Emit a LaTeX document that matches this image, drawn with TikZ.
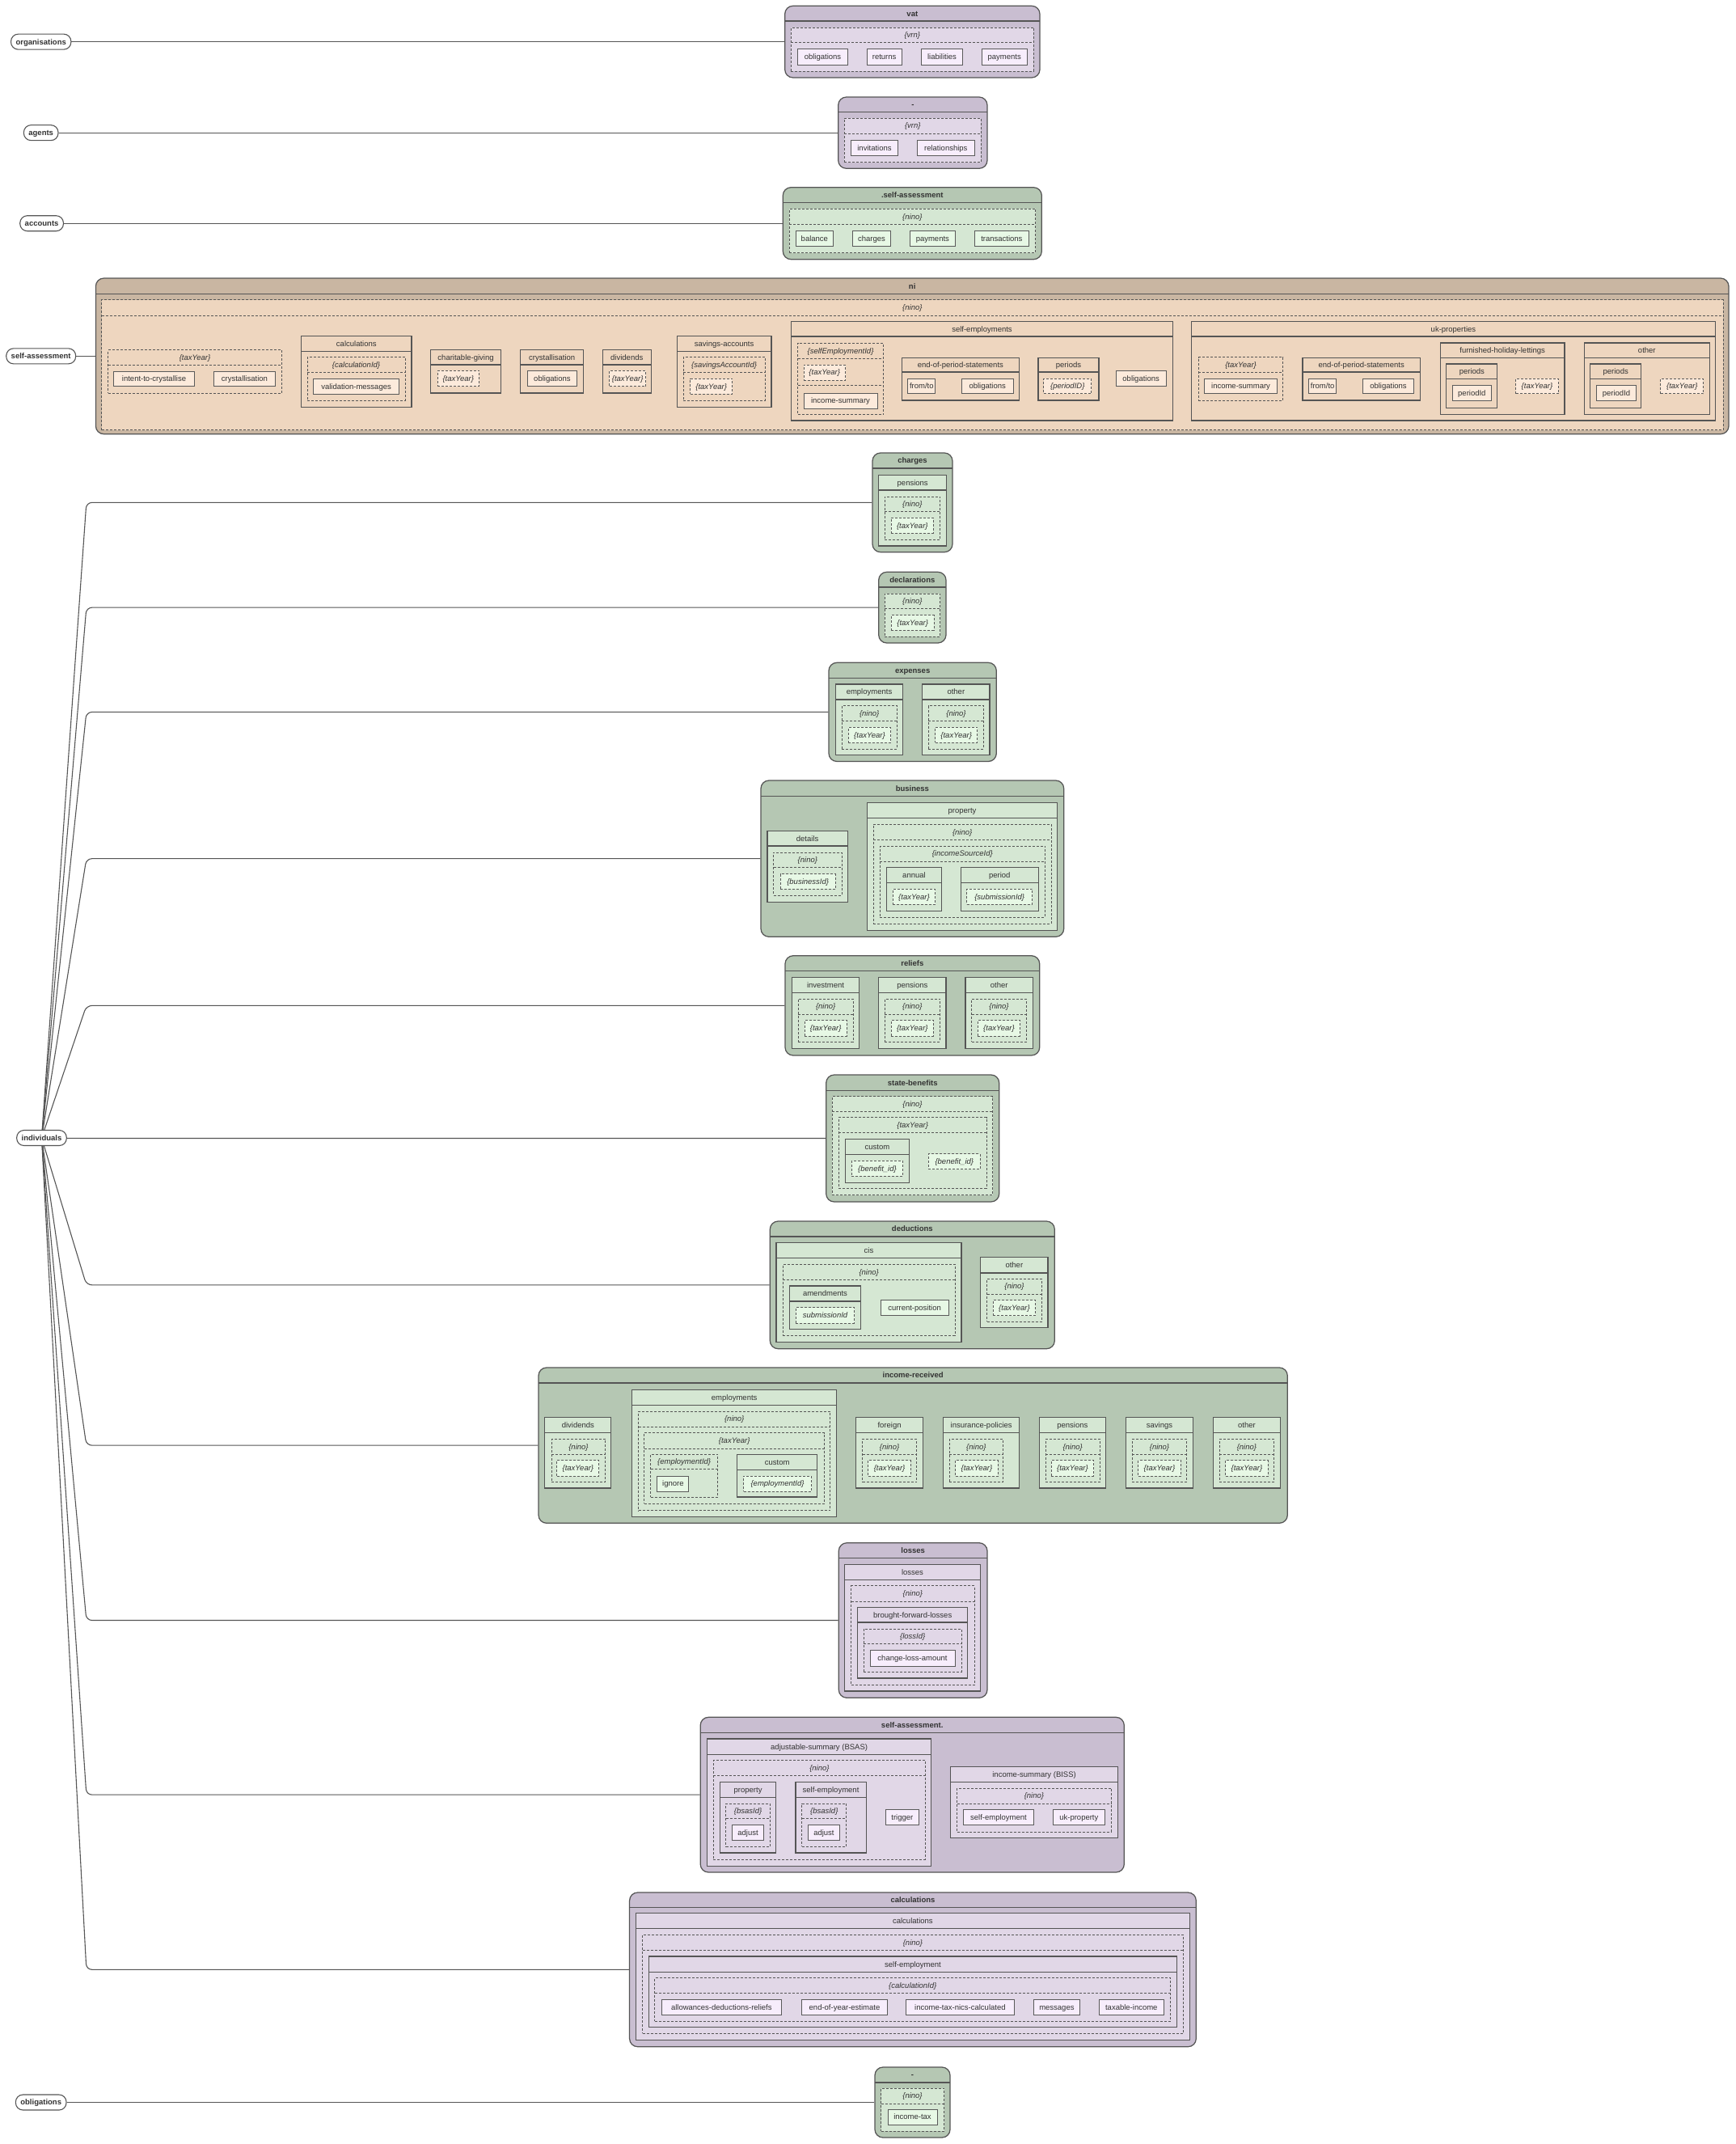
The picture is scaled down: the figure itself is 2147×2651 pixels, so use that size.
\documentclass[tikz,border=0pt]{standalone}
\usepackage{fontspec}
\setmainfont{Liberation Sans}
\usetikzlibrary{fit,backgrounds}

\definecolor{bdr}{HTML}{555555}
\definecolor{lbdr}{HTML}{5A5A5A}
\definecolor{txt}{HTML}{333333}
\definecolor{pA}{HTML}{C9BED1}\definecolor{pB}{HTML}{E1D7E7}\definecolor{pC}{HTML}{F7EDFC}
\definecolor{gA}{HTML}{B5C7B3}\definecolor{gB}{HTML}{D5E7D3}\definecolor{gC}{HTML}{E7F8E5}
\definecolor{tA}{HTML}{C9B6A2}\definecolor{tB}{HTML}{EED6BF}\definecolor{tC}{HTML}{FCEADB}
\colorlet{cA}{gA}\colorlet{cB}{gB}\colorlet{cC}{gC}
\newcommand\pal[1]{\colorlet{cA}{#1A}\colorlet{cB}{#1B}\colorlet{cC}{#1C}}

\newcommand\fs{\fontsize{9.5}{11}\selectfont}
\tikzset{
  every node/.style={font=\fs, text=txt, text height=7pt, text depth=0.2pt},
  tbox/.style={draw=bdr, fill=cA, line width=1.25pt, rounded corners=10pt, inner sep=0pt},
  sbox/.style={draw=bdr, fill=cB, line width=1.1pt, inner sep=0pt},
  dbox/.style={draw=bdr, fill=cB, line width=0.9pt, dash pattern=on 3pt off 2pt, inner sep=0pt},
  lbox/.style={draw=lbdr, fill=cC, line width=1pt, inner sep=0pt},
  dlbox/.style={draw=lbdr, fill=cC, line width=0.9pt, dash pattern=on 3pt off 2pt, inner sep=0pt},
  hsep/.style={draw=bdr, line width=1.1pt},
  dsep/.style={draw=bdr, line width=0.9pt, dash pattern=on 3pt off 2pt},
  ttl/.style={font=\fs\bfseries},
  stl/.style={font=\fs},
  dtl/.style={font=\fs\itshape},
  pill/.style={draw=bdr, fill=white, line width=1.1pt, rounded corners=9pt, minimum height=19pt,
    inner xsep=6pt, inner ysep=0pt, font=\fs\bfseries},
  conn/.style={draw=bdr, line width=1.1pt},
}

% top-level rounded box: name, x1, y1, x2, y2, header line y, title
\newcommand\tbx[7]{%
  \node[tbox, fit={(#2,#3) (#4,#5)}] (#1) {};
  \draw[hsep] (#2,#6) -- (#4,#6);
  \node[ttl] (#1-t) at ({(#2+#4)/2},{(#3+#6)/2}) {#7};}
% nested solid box with header
\newcommand\sbx[7]{%
  \node[sbox, fit={(#2,#3) (#4,#5)}] (#1) {};
  \draw[hsep] (#2,#6) -- (#4,#6);
  \node[stl] (#1-t) at ({(#2+#4)/2},{(#3+#6)/2}) {#7};}
% dashed parameter box with header
\newcommand\dbx[7]{%
  \node[dbox, fit={(#2,#3) (#4,#5)}] (#1) {};
  \draw[dsep] (#2,#6) -- (#4,#6);
  \node[dtl] (#1-t) at ({(#2+#4)/2},{(#3+#6)/2}) {#7};}
% leaves: solid (resource) and dashed (parameter)
\newcommand\lbx[6]{\node[lbox, fit={(#2,#3) (#4,#5)}] (#1) {};
  \node[stl] (#1-t) at (#1.center) {#6};}
\newcommand\dlbx[6]{\node[dlbox, fit={(#2,#3) (#4,#5)}] (#1) {};
  \node[dtl] (#1-t) at (#1.center) {#6};}

\begin{document}
\begin{tikzpicture}[x=1pt,y=-1pt]
\useasboundingbox (0,0) rectangle (2147,2651);

% ---------- root labels ----------
\node[pill] (organisations) at (50.7,51.65) {organisations};
\node[pill] (agents) at (50.7,164.15) {agents};
\node[pill] (accounts) at (51.6,276.2) {accounts};
\node[pill] (self-assessment) at (50.7,440.35) {self-assessment};
\node[pill] (individuals) at (51.5,1407) {individuals};
\node[pill] (obligations) at (50.7,2599.5) {obligations};

% ---------- organisations / vat ----------
\begin{scope}\pal{p}
\tbx{vat}{970.7}{7.3}{1286}{96}{26}{vat}
\dbx{vat-vrn}{978.3}{34}{1278.3}{88.3}{52.7}{\{vrn\}}
\lbx{vat-obl}{986.7}{60.7}{1048.3}{80}{obligations}
\lbx{vat-ret}{1072}{60.7}{1115.3}{80}{returns}
\lbx{vat-lia}{1139.3}{60.7}{1190.7}{80}{liabilities}
\lbx{vat-pay}{1214.3}{60.7}{1270}{80}{payments}
% agents
\tbx{agt}{1036.7}{120}{1221}{208.3}{138.3}{-}
\dbx{agt-vrn}{1044.3}{146}{1213.3}{200.7}{165}{\{vrn\}}
\lbx{agt-inv}{1052.3}{173.3}{1110.7}{192.7}{invitations}
\lbx{agt-rel}{1134.3}{173.3}{1205.3}{192.7}{relationships}
\end{scope}

% ---------- accounts ----------
\begin{scope}\pal{g}
\tbx{acc}{968.3}{231.7}{1288.3}{320.7}{250.7}{.self-assessment}
\dbx{acc-nino}{976}{258.3}{1280.7}{312.7}{277.3}{\{nino\}}
\lbx{acc-bal}{984}{285}{1030.7}{304.3}{balance}
\lbx{acc-chg}{1054.3}{285}{1101.7}{304.3}{charges}
\lbx{acc-pay}{1125.7}{285}{1181}{304.3}{payments}
\lbx{acc-trn}{1205}{285}{1272.7}{304.3}{transactions}
\end{scope}

% ---------- self-assessment / ni ----------
\begin{scope}\pal{t}
\tbx{ni}{118.4}{344}{2138}{536.7}{363.3}{ni}
\dbx{ni-nino}{125.7}{370.7}{2131}{531.7}{390}{\{nino\}}
\dbx{ni-ty}{133.6}{432.7}{348.5}{486}{451}{\{taxYear\}}
\lbx{ni-itc}{140.9}{459}{240.2}{477.7}{intent-to-crystallise}
\lbx{ni-cry}{264.3}{459}{340.6}{477.7}{crystallisation}
\sbx{ni-calc}{372.6}{415.3}{509}{503.3}{434.3}{calculations}
\dbx{ni-cid}{380}{441.7}{501.1}{495.3}{460.7}{\{calculationId\}}
\lbx{ni-val}{387.8}{468.3}{493.3}{487}{validation-messages}
\sbx{ni-cg}{532.6}{432.3}{619.5}{486}{451}{charitable-giving}
\dlbx{ni-cg-ty}{541}{458.3}{592.6}{477.7}{\{taxYear\}}
\sbx{ni-crys}{643.7}{432.3}{721.7}{486}{451}{crystallisation}
\lbx{ni-crys-o}{652.1}{458.3}{713.8}{477.7}{obligations}
\sbx{ni-div}{745.2}{432.3}{805.3}{486}{451}{dividends}
\dlbx{ni-div-ty}{753.7}{458.3}{798.6}{477.7}{\{taxYear\}}
\sbx{ni-sav}{837.3}{415.3}{954}{503.3}{434.3}{savings-accounts}
\dbx{ni-said}{845.1}{441.7}{946.1}{495.3}{460.7}{\{savingsAccountId\}}
\dlbx{ni-sav-ty}{853.6}{468.3}{905.7}{487}{\{taxYear\}}
% self-employments
\sbx{ni-se}{978.5}{397.3}{1450.5}{520}{416}{self-employments}
\dbx{ni-seid}{986.5}{424}{1092.5}{512.7}{443.3}{\{selfEmploymentId\}}
\draw[dsep] (986.5,476.7) -- (1092.5,476.7);
\dlbx{ni-se-ty}{994}{451}{1045.5}{470}{\{taxYear\}}
\lbx{ni-se-is}{994}{486}{1085}{505}{income-summary}
\sbx{ni-se-eop}{1115.2}{442.7}{1260.5}{495}{460}{end-of-period-statements}
\lbx{ni-se-ft}{1122.8}{468.3}{1156.8}{486.7}{from/to}
\lbx{ni-se-ob}{1189.4}{468.3}{1253}{486.7}{obligations}
\sbx{ni-se-per}{1284}{442.7}{1359}{495}{460}{periods}
\dlbx{ni-se-pid}{1290.8}{468.3}{1349.8}{486.7}{\{periodID\}}
\lbx{ni-se-obl}{1380.1}{458.3}{1442.2}{477.7}{obligations}
% uk-properties
\sbx{ni-uk}{1473.2}{397.3}{2121.7}{520}{416}{uk-properties}
\dbx{ni-uk-ty}{1482.3}{441.7}{1586.8}{495}{460.7}{\{taxYear\}}
\lbx{ni-uk-is}{1489.9}{468.3}{1579.2}{486.7}{income-summary}
\sbx{ni-uk-eop}{1611}{442.7}{1756.4}{495}{460}{end-of-period-statements}
\lbx{ni-uk-ft}{1618.6}{468.3}{1652.7}{486.7}{from/to}
\lbx{ni-uk-ob}{1685.2}{468.3}{1748.8}{486.7}{obligations}
\sbx{ni-fhl}{1781.3}{424}{1935}{512.7}{442.7}{furnished-holiday-lettings}
\sbx{ni-fhl-per}{1788.9}{450}{1851.8}{504.3}{468.3}{periods}
\lbx{ni-fhl-pid}{1796.5}{476.7}{1844.2}{495.7}{periodId}
\dlbx{ni-fhl-ty}{1874.5}{468.3}{1927.5}{486.7}{\{taxYear\}}
\sbx{ni-oth}{1959.2}{424}{2114.4}{512.7}{442.7}{other}
\sbx{ni-oth-per}{1966.8}{450}{2029.6}{504.3}{468.3}{periods}
\lbx{ni-oth-pid}{1974.4}{476.7}{2023.6}{495.7}{periodId}
\dlbx{ni-oth-ty}{2053.9}{468.3}{2106.8}{486.7}{\{taxYear\}}
\end{scope}

% ---------- individuals (green groups) ----------
\begin{scope}\pal{g}
% charges
\tbx{chg}{1079}{560}{1178}{682.7}{579}{charges}
\sbx{chg-pen}{1086.7}{587.3}{1170.7}{675}{606}{pensions}
\dbx{chg-nino}{1094}{614}{1162.7}{667.3}{632.7}{\{nino\}}
\dlbx{chg-ty}{1102.3}{640.3}{1154.3}{659.3}{\{taxYear\}}
% declarations
\tbx{dec}{1086.7}{707.3}{1170}{795}{726}{declarations}
\dbx{dec-nino}{1094}{734}{1162.7}{787.3}{752.7}{\{nino\}}
\dlbx{dec-ty}{1102.3}{760.7}{1155}{779}{\{taxYear\}}
% expenses
\tbx{exp}{1025}{819.3}{1232.3}{941.5}{838.3}{expenses}
\sbx{exp-emp}{1033.3}{846}{1116.7}{933.5}{865}{employments}
\dbx{exp-emp-n}{1041}{872.7}{1109.3}{926}{891.7}{\{nino\}}
\dlbx{exp-emp-t}{1049.3}{899.3}{1101.7}{918.3}{\{taxYear\}}
\sbx{exp-oth}{1140.7}{846}{1224}{933.5}{865}{other}
\dbx{exp-oth-n}{1148.3}{872.7}{1216.7}{926}{891.7}{\{nino\}}
\dlbx{exp-oth-t}{1156.7}{899.3}{1208.7}{918.3}{\{taxYear\}}
% business
\tbx{bus}{941}{965}{1315.7}{1158.3}{984.3}{business}
\sbx{bus-det}{949}{1027.3}{1048.3}{1115.3}{1046}{details}
\dbx{bus-det-n}{956.7}{1054}{1041}{1107}{1072.7}{\{nino\}}
\dlbx{bus-bid}{965}{1080.7}{1033.3}{1099.3}{\{businessId\}}
\sbx{bus-prop}{1072.7}{992.3}{1307.3}{1150.7}{1011.7}{property}
\dbx{bus-prop-n}{1080.3}{1019}{1300}{1142.7}{1038.3}{\{nino\}}
\dbx{bus-isid}{1088.3}{1046}{1292.3}{1134.3}{1065}{\{incomeSourceId\}}
\sbx{bus-ann}{1096.7}{1072.3}{1164.3}{1126.7}{1091.7}{annual}
\dlbx{bus-ann-t}{1104.3}{1099.3}{1156.7}{1118.3}{\{taxYear\}}
\sbx{bus-per}{1188.3}{1072.3}{1284.3}{1126.7}{1091.7}{period}
\dlbx{bus-per-s}{1195.7}{1099.3}{1276.7}{1118.3}{\{submissionId\}}
% reliefs
\tbx{rel}{971}{1181.7}{1285.7}{1305}{1200.7}{reliefs}
\sbx{rel-inv}{979.3}{1208.3}{1062.7}{1296.7}{1227.3}{investment}
\dbx{rel-inv-n}{987.3}{1235}{1055}{1288.3}{1254}{\{nino\}}
\dlbx{rel-inv-t}{995}{1261.7}{1047.3}{1281}{\{taxYear\}}
\sbx{rel-pen}{1086.7}{1208.3}{1170}{1296.7}{1227.3}{pensions}
\dbx{rel-pen-n}{1094.3}{1235}{1162.3}{1288.3}{1254}{\{nino\}}
\dlbx{rel-pen-t}{1102.3}{1261.7}{1154.3}{1281}{\{taxYear\}}
\sbx{rel-oth}{1194}{1208.3}{1277.3}{1296.7}{1227.3}{other}
\dbx{rel-oth-n}{1201.7}{1235}{1269.3}{1288.3}{1254}{\{nino\}}
\dlbx{rel-oth-t}{1209.3}{1261.7}{1261.7}{1281}{\{taxYear\}}
% state-benefits
\tbx{sb}{1021.7}{1329}{1235.7}{1486}{1348.3}{state-benefits}
\dbx{sb-nino}{1029.3}{1355.7}{1227.7}{1477.7}{1374.3}{\{nino\}}
\dbx{sb-ty}{1037.3}{1381.7}{1220}{1469.3}{1400.7}{\{taxYear\}}
\sbx{sb-cus}{1045.7}{1408.7}{1124.3}{1462.7}{1427.7}{custom}
\dlbx{sb-cus-b}{1053.3}{1435.3}{1116.7}{1454.3}{\{benefit\_id\}}
\dlbx{sb-bid}{1148.3}{1426.7}{1212.3}{1445.7}{\{benefit\_id\}}
% deductions
\tbx{ded}{952.3}{1510}{1304.3}{1667.7}{1529}{deductions}
\sbx{ded-cis}{960}{1536.7}{1189}{1659.3}{1555.7}{cis}
\dbx{ded-cis-n}{968.3}{1563.3}{1181}{1651.7}{1582.3}{\{nino\}}
\sbx{ded-amd}{976.7}{1590}{1064.3}{1643.3}{1609}{amendments}
\dlbx{ded-sub}{984.3}{1616.7}{1056.7}{1636}{submissionId}
\lbx{ded-cur}{1089}{1607.3}{1173.3}{1626.7}{current-position}
\sbx{ded-oth}{1212.7}{1554.3}{1296}{1641.7}{1574}{other}
\dbx{ded-oth-n}{1220.7}{1581}{1288.3}{1634}{1600}{\{nino\}}
\dlbx{ded-oth-t}{1228.3}{1607.7}{1280.7}{1626.7}{\{taxYear\}}
% income-received
\tbx{inc}{666}{1691}{1592.3}{1883.3}{1710}{income-received}
\sbx{inc-div}{673.8}{1752.7}{755.9}{1840}{1771.7}{dividends}
\dbx{inc-div-n}{682.2}{1779.3}{748.7}{1832.7}{1798.3}{\{nino\}}
\dlbx{inc-div-t}{688.8}{1805.7}{740.9}{1825}{\{taxYear\}}
\sbx{inc-emp}{781.7}{1718.3}{1034.7}{1875.7}{1737.3}{employments}
\dbx{inc-emp-n}{789.5}{1745}{1026.9}{1867.7}{1764}{\{nino\}}
\dbx{inc-emp-t}{796.7}{1771.7}{1019.7}{1859.3}{1791}{\{taxYear\}}
\dbx{inc-emp-id}{804.5}{1798.3}{887.8}{1851}{1816.7}{\{employmentId\}}
\lbx{inc-ign}{812.9}{1825}{851.8}{1844}{ignore}
\sbx{inc-cus}{911.8}{1798.3}{1010.7}{1851}{1817.3}{custom}
\dlbx{inc-cus-id}{919.6}{1825}{1003.5}{1844}{\{employmentId\}}
\sbx{inc-for}{1058.7}{1752.7}{1141.4}{1840}{1771.7}{foreign}
\dbx{inc-for-n}{1066.5}{1779.3}{1133.6}{1832.7}{1798.3}{\{nino\}}
\dlbx{inc-for-t}{1073.7}{1805.7}{1126.4}{1825}{\{taxYear\}}
\sbx{inc-ins}{1166.6}{1752.7}{1260.7}{1840}{1771.7}{insurance-policies}
\dbx{inc-ins-n}{1174.4}{1779.3}{1240.3}{1832.7}{1798.3}{\{nino\}}
\dlbx{inc-ins-t}{1181.6}{1805.7}{1234.3}{1825}{\{taxYear\}}
\sbx{inc-pen}{1285.3}{1752.7}{1367.4}{1840}{1771.7}{pensions}
\dbx{inc-pen-n}{1293.1}{1779.3}{1360.2}{1832.7}{1798.3}{\{nino\}}
\dlbx{inc-pen-t}{1300.3}{1805.7}{1352.5}{1825}{\{taxYear\}}
\sbx{inc-sav}{1392.6}{1752.7}{1475.3}{1840}{1771.7}{savings}
\dbx{inc-sav-n}{1400.4}{1779.3}{1467.6}{1832.7}{1798.3}{\{nino\}}
\dlbx{inc-sav-t}{1407.6}{1805.7}{1460.4}{1825}{\{taxYear\}}
\sbx{inc-oth}{1500.5}{1752.7}{1583.3}{1840}{1771.7}{other}
\dbx{inc-oth-n}{1508.3}{1779.3}{1575.5}{1832.7}{1798.3}{\{nino\}}
\dlbx{inc-oth-t}{1515.5}{1805.7}{1568.3}{1825}{\{taxYear\}}
% obligations
\tbx{obl}{1082}{2556}{1175}{2643}{2575}{-}
\dbx{obl-nino}{1089.5}{2582}{1167.5}{2635}{2601}{\{nino\}}
\lbx{obl-it}{1098}{2608}{1159}{2627}{income-tax}
\end{scope}

% ---------- individuals (purple groups) ----------
\begin{scope}\pal{p}
% losses
\tbx{los}{1037.3}{1907.7}{1221}{2099.3}{1926.7}{losses}
\sbx{los-l}{1044.3}{1934.3}{1212.7}{2091}{1953.3}{losses}
\dbx{los-n}{1052.7}{1960.7}{1205}{2083.3}{1980}{\{nino\}}
\sbx{los-bfl}{1060.7}{1987.3}{1196.7}{2075}{2006}{brought-forward-losses}
\dbx{los-id}{1068.3}{2014}{1189}{2067.3}{2032.7}{\{lossId\}}
\lbx{los-cla}{1076}{2040.7}{1181}{2060}{change-loss-amount}
% self-assessment.
\tbx{sa}{866.2}{2123.3}{1390.3}{2315}{2142.7}{self-assessment.}
\sbx{sa-bsas}{874.5}{2150}{1151.7}{2307.3}{2169.3}{adjustable-summary (BSAS)}
\dbx{sa-bsas-n}{882.4}{2176.7}{1144.4}{2299.3}{2195.7}{\{nino\}}
\sbx{sa-prop}{890.3}{2203.3}{959.9}{2291}{2222.3}{property}
\dbx{sa-prop-id}{897.9}{2230}{952.3}{2283.3}{2248.3}{\{bsasId\}}
\lbx{sa-prop-adj}{905.8}{2256.7}{944.4}{2275.7}{adjust}
\sbx{sa-se}{984}{2203.3}{1071.1}{2291}{2222.3}{self-employment}
\dbx{sa-se-id}{991.9}{2230}{1046.6}{2283.3}{2248.3}{\{bsasId\}}
\lbx{sa-se-adj}{999.5}{2256.7}{1038.4}{2275.7}{adjust}
\lbx{sa-trg}{1095.2}{2237.7}{1136.5}{2256.7}{trigger}
\sbx{sa-biss}{1175.8}{2184.3}{1382.4}{2272.7}{2203.3}{income-summary (BISS)}
\dbx{sa-biss-n}{1183.7}{2211}{1374.1}{2265}{2230}{\{nino\}}
\lbx{sa-biss-se}{1191.6}{2237.7}{1278.4}{2256.7}{self-employment}
\lbx{sa-biss-uk}{1302.5}{2237.7}{1366.2}{2256.7}{uk-property}
% calculations
\tbx{calc}{778.6}{2340}{1479.3}{2530.7}{2358.3}{calculations}
\sbx{calc-c}{786.3}{2365.7}{1471.5}{2522.7}{2384.3}{calculations}
\dbx{calc-n}{794.5}{2392.3}{1463.4}{2514.3}{2411}{\{nino\}}
\sbx{calc-se}{802.2}{2419}{1455.7}{2506.7}{2438.3}{self-employment}
\dbx{calc-id}{809.9}{2445.7}{1447.6}{2499.3}{2464.3}{\{calculationId\}}
\lbx{calc-adr}{818}{2472.7}{966.6}{2491.7}{allowances-deductions-reliefs}
\lbx{calc-eye}{991.5}{2472.7}{1097.5}{2491.7}{end-of-year-estimate}
\lbx{calc-itn}{1120.6}{2472.7}{1254.2}{2491.7}{income-tax-nics-calculated}
\lbx{calc-msg}{1278.6}{2472.7}{1335.2}{2491.7}{messages}
\lbx{calc-ti}{1359.2}{2472.7}{1439.4}{2491.7}{taxable-income}
\end{scope}

% ---------- connectors ----------
\begin{scope}[on background layer]
\fill[white] (0,0) rectangle (2147,2651);
\draw[conn] (organisations.east) -- (organisations.east -| vat.west);
\draw[conn] (agents.east) -- (agents.east -| agt.west);
\draw[conn] (accounts.east) -- (accounts.east -| acc.west);
\draw[conn] (self-assessment.east) -- (self-assessment.east -| ni.west);
\draw[conn] (obligations.east) -- (obligations.east -| obl.west);
\foreach \t in {chg,dec,exp,bus,rel,sb,ded,inc,los,sa,calc}
  \draw[conn, rounded corners=7pt] (individuals.center)
     -- ([xshift=24pt]individuals.east |- \t.west) -- (\t.west);
\end{scope}
\end{tikzpicture}
\end{document}
